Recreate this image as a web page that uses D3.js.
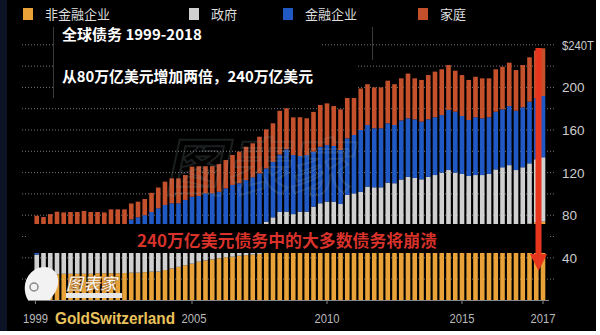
<!DOCTYPE html>
<html><head><meta charset="utf-8">
<script src="https://cdn.jsdelivr.net/npm/d3@7"></script>
<style>html,body{margin:0;padding:0;background:#fff;}svg{display:block;}</style>
</head><body>
<svg id="c" width="600" height="335"></svg>
<script>
// ---- data (trillion USD, quarterly 1999Q1 - 2017Q4) ----
const years = d3.range(1999, 2018);
const quarters = years.flatMap(y => [1, 2, 3, 4].map(q => y + "Q" + q));
const seriesNames = ["非金融企业", "政府", "金融企业", "家庭"];
const nonFinancial = [24,24,24.5,24.5,25,25,25,25,25,25.5,25.5,25.5,25.5,25.7,
  26,26,26.5,27,27,28.5,30,31.5,33,34.5,36.3,37.5,38.5,39.5,40.5,41,42,42.5,43,43.6,
  45,46,47,48,48,49,49,50,51,52,52,52,53,54,55,56,56,57,58,58,59,60,60,61,61,62,63,64,64,65,65,66,66,67,68,69,69,70,71,72,73,74];
const government = [19,28,28.5,29.5,29,30,30,31,31,31.5,31.5,32.5,32.5,33.3,
  34,35,35.5,35,36,35.5,34,33.5,32,31.5,29.7,29.5,28.5,28.5,27.5,28,27,27.5,28,28.4,
  29,32,36,35.3,33,34.3,34.3,38,40.2,40.7,40.7,38.5,46,46.5,47,50.8,50.2,49.2,52.5,52,54.5,56,55,52.7,55,55.7,57,58.4,56,53.7,51.8,51.7,51.7,51.7,55,56,58,52.4,54,56.7,59.5,60.4];
const financial = [23,13,14,14,14,13,14,13,13,12,12,12,12,12,
  16,17,18,21,23.5,25.6,27.2,26.2,29.3,31.4,32,33.5,33.5,34,37.2,39.4,41,43,44.6,47.3,
  50,52,54,58.6,55.5,52.3,53.2,51.7,53.1,53.2,52.3,50.7,53.2,54.8,58,57.9,55.4,55.4,55.8,54.7,55.5,55,55,54.1,54,54.3,54,56.4,57.2,54.4,52.6,54.3,53.3,53.3,54.2,54.4,55.5,55.7,56.3,57.9,57.3,57.5];
const household = [13.5,13.3,14,15.3,14.6,15,14,15,14,14,13.6,15.5,15.5,14.5,
  15,14.7,15.2,18,19.5,21.9,23.4,23.4,23.4,28.2,28,25.5,25.5,26,26.6,28.1,29.7,31.3,31.9,34.4,
  36.6,36.3,41,38.5,35.4,36.4,34.5,37.3,39.2,39.1,37.5,38.2,38.5,37.6,39,38.3,38.4,38.4,40,38.3,39.5,42,38.5,39.2,41.6,42.8,43,42.2,38.5,38.5,37.6,38,37.5,36.5,39.8,40,40.7,38.2,39.7,41.7,44.8,44.8];
const yTickValues = [40, 80, 120, 160, 200, 240];
const yTickLabels = ["40", "80", "120", "160", "200", "$240T"];
const xTickYears = [1999.2, 2005, 2010, 2015, 2018];
const xTickLabels = ["1999", "2005", "2010", "2015", "2017"];
const title1 = "全球债务 1999-2018";
const title2 = "从80万亿美元增加两倍，240万亿美元";
const redNote = "240万亿美元债务中的大多数债务将崩溃";

const colors = ["#e8a238", "#d0d0d0", "#2159c4", "#c4502c"];
const CJK = "'Noto Sans CJK SC','Noto Sans',sans-serif";
const LAT = "'Liberation Sans',Arial,sans-serif";

const svg = d3.select("#c");
// background
svg.append("rect").attr("x", 0).attr("y", 0).attr("width", 596).attr("height", 331).attr("fill", "#000");
svg.append("rect").attr("x", 0).attr("y", 0).attr("width", 7).attr("height", 331).attr("fill", "#0b1324");

const x = d3.scaleLinear().domain([1998.9, 2018.2]).range([27.3, 548.4]);
const y = d3.scaleLinear().domain([0, 240]).range([300.4, 44.8]);

// gridlines
const gridVals = d3.range(20, 241, 20);
svg.append("g").selectAll("line").data(gridVals).join("line")
  .attr("x1", 22).attr("x2", 556)
  .attr("y1", d => y(d)).attr("y2", d => y(d))
  .attr("stroke", "#777").attr("stroke-width", 1).attr("stroke-dasharray", "1,2");

// stacked bars
const rows = quarters.map((q, i) => ({
  t: +q.slice(0, 4) + (+q.slice(5)) / 4,
  a: nonFinancial[i], b: government[i], c: financial[i], d: household[i]
}));
const stack = d3.stack().keys(["a", "b", "c", "d"]);
const layers = stack(rows);
const bw = 4.6;
svg.append("g").selectAll("g").data(layers).join("g")
  .attr("fill", (d, i) => colors[i])
  .selectAll("rect").data(d => d).join("rect")
  .attr("x", d => x(d.data.t) - bw / 2)
  .attr("width", bw)
  .attr("y", d => y(d[1]))
  .attr("height", d => y(d[0]) - y(d[1]));

// black band with red note
svg.append("rect").attr("x", 28).attr("y", 224).attr("width", 520).attr("height", 29).attr("fill", "#000");
svg.append("text").attr("x", 137).attr("y", 246.5).text(redNote)
  .attr("font-family", CJK).attr("font-weight", "bold").attr("font-size", 16.5)
  .attr("fill", "#d8322b").attr("textLength", 300).attr("lengthAdjust", "spacingAndGlyphs");

// x axis
svg.append("line").attr("x1", 28).attr("x2", 549).attr("y1", 300.5).attr("y2", 300.5).attr("stroke", "#888");
svg.append("g").selectAll("line").data(xTickYears).join("line")
  .attr("x1", d => x(d)).attr("x2", d => x(d)).attr("y1", 300).attr("y2", 304)
  .attr("stroke", "#888");
svg.append("g").selectAll("text").data(xTickYears).join("text")
  .attr("x", (d, i) => x(d) + (i === 1 ? 2 : 0)).attr("y", 323).attr("text-anchor", "middle")
  .attr("font-family", LAT).attr("font-size", 13).attr("fill", "#bbb")
  .attr("textLength", 25).attr("lengthAdjust", "spacingAndGlyphs")
  .text((d, i) => xTickLabels[i]);

// y axis labels (right)
svg.append("g").selectAll("text").data(yTickValues).join("text")
  .attr("x", 562).attr("y", d => y(d) + 5)
  .attr("font-family", LAT).attr("font-size", 13.5).attr("fill", "#ccc")
  .attr("textLength", (d, i) => i === 5 ? 32 : null).attr("lengthAdjust", "spacingAndGlyphs")
  .text((d, i) => yTickLabels[i]);

// title box
svg.append("rect").attr("x", 53).attr("y", 27).attr("width", 268).attr("height", 30).attr("fill", "#000");
svg.append("rect").attr("x", 53).attr("y", 56).attr("width", 305).attr("height", 42).attr("fill", "#000");
svg.append("line").attr("x1", 53.5).attr("x2", 53.5).attr("y1", 27).attr("y2", 98).attr("stroke", "#3a3a3a");
svg.append("line").attr("x1", 372.5).attr("x2", 372.5).attr("y1", 27).attr("y2", 60).attr("stroke", "#3a3a3a");
svg.append("text").attr("x", 62).attr("y", 40).text(title1)
  .attr("font-family", CJK).attr("font-weight", "bold").attr("font-size", 15).attr("fill", "#fff");
svg.append("text").attr("x", 62).attr("y", 82).text(title2)
  .attr("font-family", CJK).attr("font-weight", "bold").attr("font-size", 15).attr("fill", "#fff")
  .attr("textLength", 251).attr("lengthAdjust", "spacingAndGlyphs");

// legend
const legendX = [23, 189, 283, 418];
const lg = svg.append("g").selectAll("g").data(seriesNames).join("g")
  .attr("transform", (d, i) => `translate(${legendX[i]},0)`);
lg.append("rect").attr("x", 0).attr("y", 8).attr("width", 10).attr("height", 12).attr("fill", (d, i) => colors[i]);
lg.append("text").attr("x", 22).attr("y", 19).text(d => d)
  .attr("font-family", CJK).attr("font-size", 13).attr("fill", "#ddd");

// red arrow
svg.append("line").attr("x1", 538.5).attr("x2", 538.5).attr("y1", 48).attr("y2", 256)
  .attr("stroke", "#e8361e").attr("stroke-width", 6);
svg.append("path").attr("d", "M530,254 L547,254 L538.5,271 Z").attr("fill", "#e8361e");

// faint central watermark
svg.append("text").attr("x", 205).attr("y", 190).text("图表家")
  .attr("font-family", CJK).attr("font-weight", "bold").attr("font-size", 62)
  .attr("fill", "none").attr("stroke", "#9aa").attr("stroke-width", 2).attr("opacity", 0.18)
  .attr("transform", "skewX(-12)");

// bottom-left logo
svg.append("path").attr("d", "M28,300 C22,290 24,274 38,268 C50,264 60,272 58,284 C57,292 52,296 50,300 Z").attr("fill", "#f2f2f2");
svg.append("circle").attr("cx", 34).attr("cy", 287).attr("r", 4).attr("fill", "none").attr("stroke", "#888").attr("stroke-width", 1.5);
svg.append("text").attr("x", 66).attr("y", 290).text("图表家")
  .attr("font-family", CJK).attr("font-weight", "bold").attr("font-size", 17).attr("fill", "#fff")
  .attr("stroke", "#c08030").attr("stroke-width", 0.6).attr("font-style", "italic");
svg.append("rect").attr("x", 66).attr("y", 293).attr("width", 56).attr("height", 5).attr("fill", "#e6e6e6");

// GoldSwitzerland watermark
svg.append("text").attr("x", 55).attr("y", 324).text("GoldSwitzerland")
  .attr("font-family", LAT).attr("font-weight", "bold").attr("font-size", 16.5).attr("fill", "#e9c25c")
  .attr("textLength", 120).attr("lengthAdjust", "spacingAndGlyphs");
</script>
</body></html>
